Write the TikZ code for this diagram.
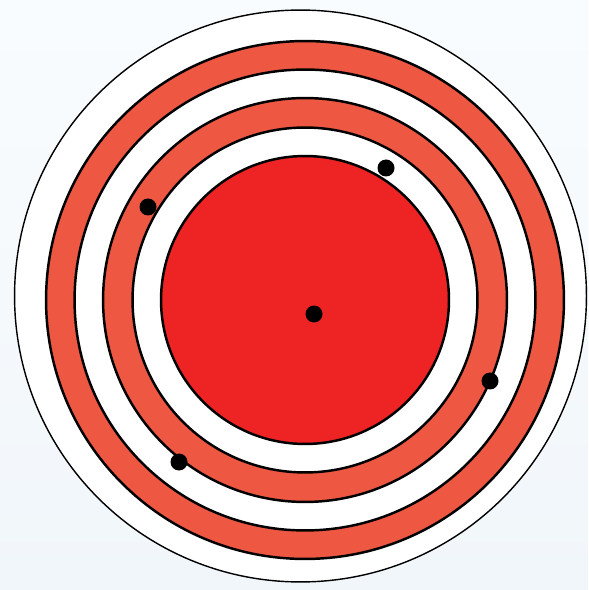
\documentclass[tikz,border=0pt]{standalone}
\usepackage{tikz}
\definecolor{ringred}{HTML}{EE5843}
\definecolor{corered}{HTML}{EE2424}
\definecolor{bgtop}{HTML}{F9FCFE}
\definecolor{bgbottom}{HTML}{F1F6FA}
\begin{document}
\begin{tikzpicture}[
  x=0.02cm, y=-0.02cm,
  band/.style={draw=black, line width=1.4pt},
  redband/.style={band, fill=ringred},
  whiteband/.style={band, fill=white},
  core/.style={band, fill=corered},
  dot/.style={circle, fill=black, inner sep=0pt, minimum size=0.34cm},
]
% --- Background ---
\fill[top color=bgtop, bottom color=bgbottom] (0,0) rectangle (588,590);
\useasboundingbox (0,0) rectangle (588,590);

% --- Outer rim ---
\draw[fill=white, line width=0.8pt] (300.5,296) circle[radius=5.72cm];

% --- Rings ---
\coordinate (ctr) at (305,300);
\draw[redband]   (ctr) circle[radius=5.18cm];
\draw[whiteband] (ctr) circle[radius=4.61cm];
\draw[redband]   (ctr) circle[radius=4.04cm];
\draw[whiteband] (ctr) circle[radius=3.45cm];
\draw[core]      (ctr) circle[radius=2.88cm];

% --- Points ---
\node[dot] (p0) at (314,314) {};
\node[dot] (p1) at (386,168) {};
\node[dot] (p2) at (148,207) {};
\node[dot] (p3) at (490,381) {};
\node[dot] (p4) at (179,462) {};
\end{tikzpicture}
\end{document}
